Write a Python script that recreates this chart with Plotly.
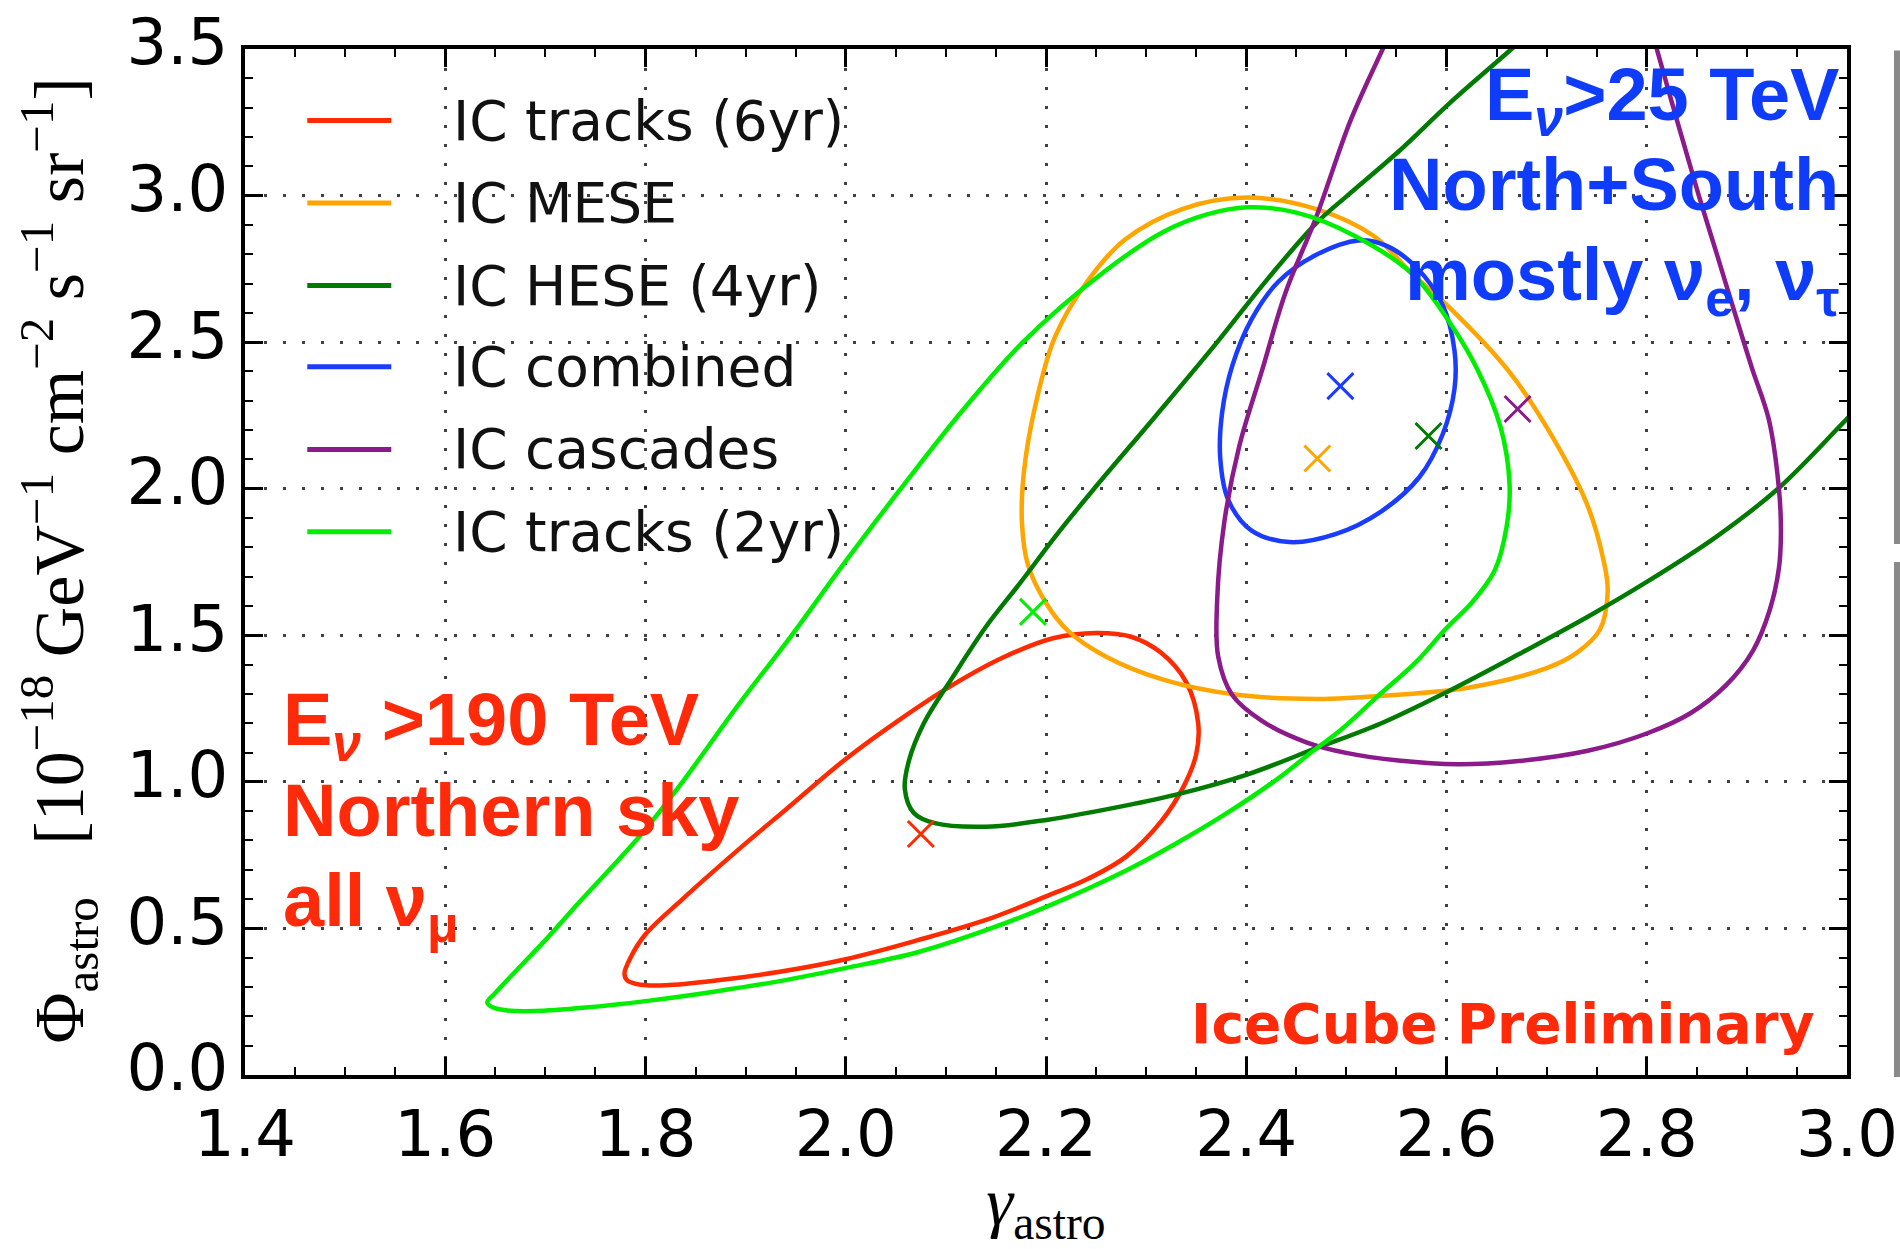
import plotly.graph_objects as go

# ---------------- data ----------------
x_tick_vals = [1.4, 1.6, 1.8, 2.0, 2.2, 2.4, 2.6, 2.8, 3.0]
x_tick_text = ["1.4", "1.6", "1.8", "2.0", "2.2", "2.4", "2.6", "2.8", "3.0"]
y_tick_vals = [0.0, 0.5, 1.0, 1.5, 2.0, 2.5, 3.0, 3.5]
y_tick_text = ["0.0", "0.5", "1.0", "1.5", "2.0", "2.5", "3.0", "3.5"]

series_names = ["IC tracks (6yr)", "IC MESE", "IC HESE (4yr)",
                "IC combined", "IC cascades", "IC tracks (2yr)"]
series_colors = ["#ff2a00", "#ffa500", "#007a00", "#1a3cff", "#8b1a8b", "#00ee00"]

# IC tracks (6yr)
tracks6_gamma = [1.779, 1.785, 1.800, 1.837, 1.900, 1.940, 2.000, 2.055, 2.104, 2.157,
                 2.207, 2.250, 2.285, 2.315, 2.340, 2.352, 2.350, 2.338, 2.315, 2.280,
                 2.243, 2.202, 2.140, 2.071, 2.000, 1.934, 1.870, 1.820, 1.795, 1.782, 1.779]
tracks6_phi = [0.345, 0.400, 0.480, 0.600, 0.790, 0.905, 1.078, 1.215, 1.325, 1.424,
               1.490, 1.508, 1.495, 1.440, 1.340, 1.200, 1.094, 0.988, 0.865, 0.745,
               0.671, 0.612, 0.529, 0.459, 0.395, 0.352, 0.322, 0.306, 0.308, 0.322, 0.345]

# IC MESE
mese_gamma = [2.401, 2.336, 2.279, 2.241, 2.209, 2.190, 2.178, 2.176, 2.182, 2.200,
              2.222, 2.260, 2.317, 2.393, 2.470, 2.546, 2.623, 2.700, 2.730, 2.753,
              2.761, 2.757, 2.740, 2.700, 2.661, 2.600, 2.566, 2.527, 2.470, 2.401]
mese_phi = [2.993, 2.954, 2.850, 2.706, 2.518, 2.294, 2.059, 1.882, 1.740, 1.610,
            1.515, 1.427, 1.349, 1.296, 1.283, 1.296, 1.322, 1.388, 1.440, 1.518,
            1.649, 1.753, 1.950, 2.210, 2.406, 2.628, 2.732, 2.863, 2.954, 2.993]

# IC HESE (4yr) - contour leaves the frame at the top and on the right
hese_gamma = [2.700, 2.663, 2.604, 2.553, 2.501, 2.470, 2.420, 2.371, 2.310, 2.248,
              2.210, 2.175, 2.140, 2.106, 2.078, 2.063, 2.059, 2.068, 2.089, 2.140,
              2.202, 2.278, 2.333, 2.400, 2.470, 2.535, 2.600, 2.672, 2.742, 2.800,
              2.869, 2.931, 2.999, 3.060]
hese_phi = [3.605, 3.494, 3.318, 3.153, 3.000, 2.906, 2.710, 2.500, 2.250, 2.000,
            1.840, 1.682, 1.529, 1.353, 1.200, 1.071, 0.976, 0.894, 0.859, 0.847,
            0.871, 0.918, 0.959, 1.024, 1.115, 1.200, 1.306, 1.435, 1.565, 1.682,
            1.835, 2.000, 2.235, 2.450]

# IC combined
combined_gamma = [2.512, 2.470, 2.432, 2.405, 2.386, 2.376, 2.374, 2.382, 2.405, 2.443,
                  2.489, 2.535, 2.573, 2.596, 2.608, 2.608, 2.596, 2.569, 2.539, 2.512]
combined_phi = [2.847, 2.798, 2.706, 2.576, 2.419, 2.262, 2.106, 1.962, 1.858, 1.818,
                1.845, 1.923, 2.040, 2.184, 2.341, 2.471, 2.628, 2.758, 2.830, 2.847]

# IC cascades - contour leaves the frame at the top
cascades_gamma = [2.550, 2.537, 2.504, 2.470, 2.439, 2.416, 2.393, 2.378, 2.371, 2.372,
                  2.386, 2.416, 2.460, 2.501, 2.552, 2.611, 2.672, 2.741, 2.800, 2.844,
                  2.879, 2.906, 2.923, 2.932, 2.934, 2.932, 2.922, 2.905, 2.889, 2.870,
                  2.852, 2.832, 2.810, 2.800]
cascades_phi = [3.600, 3.505, 3.255, 2.928, 2.667, 2.406, 2.145, 1.884, 1.623, 1.427,
                1.296, 1.207, 1.135, 1.098, 1.073, 1.060, 1.071, 1.106, 1.165, 1.235,
                1.329, 1.447, 1.588, 1.729, 1.850, 2.000, 2.235, 2.412, 2.588, 2.800,
                3.000, 3.235, 3.500, 3.620]

# IC tracks (2yr)
tracks2_gamma = [1.642, 1.650, 1.672, 1.700, 1.734, 1.795, 1.837, 1.890, 1.946, 2.000,
                 2.055, 2.115, 2.177, 2.260, 2.317, 2.360, 2.401, 2.451, 2.508,
                 2.566, 2.604, 2.631, 2.654, 2.663, 2.660, 2.648, 2.625, 2.600, 2.570,
                 2.532, 2.494, 2.467, 2.432, 2.381, 2.329, 2.278, 2.202, 2.140, 2.071,
                 2.000, 1.937, 1.870, 1.800, 1.740, 1.690, 1.662, 1.648, 1.642]
tracks2_phi = [0.247, 0.280, 0.360, 0.460, 0.590, 0.818, 1.000, 1.250, 1.500, 1.753,
               2.000, 2.260, 2.500, 2.745, 2.876, 2.935, 2.960, 2.941, 2.863,
               2.732, 2.563, 2.406, 2.210, 2.014, 1.870, 1.720, 1.610, 1.525, 1.410,
               1.294, 1.176, 1.106, 1.012, 0.894, 0.788, 0.694, 0.576, 0.494, 0.418,
               0.365, 0.322, 0.285, 0.252, 0.230, 0.218, 0.220, 0.230, 0.247]

# best-fit points (same order as series_names)
bestfit_gamma = [2.075, 2.471, 2.582, 2.494, 2.671, 2.187]
bestfit_phi = [0.822, 2.103, 2.180, 2.350, 2.272, 1.580]

contours_gamma = [tracks6_gamma, mese_gamma, hese_gamma, combined_gamma, cascades_gamma, tracks2_gamma]
contours_phi = [tracks6_phi, mese_phi, hese_phi, combined_phi, cascades_phi, tracks2_phi]

# ---------------- figure ----------------
RED_TXT = "#ff2a0a"
BLUE_TXT = "#0f3cfa"

fig = go.Figure()
for name, col, gx, py in zip(series_names, series_colors, contours_gamma, contours_phi):
    fig.add_trace(go.Scatter(x=gx, y=py, mode="lines", name=name,
                             line=dict(color=col, width=4.5, shape="spline", smoothing=1.0),
                             showlegend=False, hoverinfo="skip"))
for name, col, gx, py in zip(series_names, series_colors, bestfit_gamma, bestfit_phi):
    fig.add_trace(go.Scatter(x=[gx], y=[py], mode="markers", name=name + " best fit",
                             marker=dict(symbol="x-thin", size=26, color=col,
                                         line=dict(color=col, width=3)),
                             showlegend=False))

# legend drawn in the top-left of the axes (matplotlib-style, no frame)
leg_x0, leg_x1, leg_text_x = 1.4622, 1.5461, 1.606
leg_y = [3.256, 2.975, 2.693, 2.416, 2.134, 1.853]
shapes = []
annotations = []
for name, col, yy in zip(series_names, series_colors, leg_y):
    shapes.append(dict(type="line", xref="x", yref="y", x0=leg_x0, x1=leg_x1, y0=yy, y1=yy,
                       line=dict(color=col, width=5)))
    annotations.append(dict(xref="x", yref="y", x=leg_text_x, y=yy, text=name,
                            showarrow=False, xanchor="left", yanchor="middle",
                            font=dict(family="DejaVu Sans", size=55, color="#111111")))

# cropped neighbouring-panel bars on the right edge
shapes.append(dict(type="line", xref="paper", yref="paper", x0=1.0312, x1=1.0312,
                   y0=0.5175, y1=0.9986, line=dict(color="#8a8a8a", width=6)))
shapes.append(dict(type="line", xref="paper", yref="paper", x0=1.0312, x1=1.0312,
                   y0=-0.002, y1=0.5, line=dict(color="#8a8a8a", width=6)))

big = dict(family="Liberation Sans, Arial, sans-serif", size=74)
red_lines = ["<b>E<sub><i>ν</i></sub> >190 TeV</b>", "<b>Northern sky</b>", "<b>all ν<sub>μ</sub></b>"]
red_tops = [1.362, 1.050, 0.745]
for t, yy in zip(red_lines, red_tops):
    annotations.append(dict(xref="x", yref="y", x=1.436, y=yy, text=t, showarrow=False,
                            xanchor="left", yanchor="top", font=dict(color=RED_TXT, **big)))
blue_lines = ["<b>E<sub><i>ν</i></sub>>25 TeV</b>", "<b>North+South</b>",
              "<b>mostly ν<sub>e</sub>, ν<sub>τ</sub></b>"]
blue_tops = [0.9985, 0.9100, 0.8222]
for t, yy in zip(blue_lines, blue_tops):
    annotations.append(dict(xref="paper", yref="paper", x=0.9965, y=yy, text=t, showarrow=False,
                            xanchor="right", yanchor="top", font=dict(color=BLUE_TXT, **big)))
annotations.append(dict(xref="paper", yref="paper", x=0.9813, y=0.0827,
                        text="<b>IceCube Preliminary</b>",
                        showarrow=False, xanchor="right", yanchor="top",
                        font=dict(family="DejaVu Sans", size=55, color=RED_TXT)))

# y-axis title (rotated), placed like the reference
annotations.append(dict(xref="paper", yref="paper", x=-0.1161, y=0.5014, textangle=-90,
                        text="Φ<sub>astro</sub>   [10<sup>−18</sup> GeV<sup>−1</sup> cm<sup>−2</sup> s<sup>−1</sup> sr<sup>−1</sup>]",
                        showarrow=False, xanchor="center", yanchor="middle",
                        font=dict(family="Liberation Serif, DejaVu Serif, serif", size=70, color="black")))

axis_common = dict(ticks="inside", ticklen=18, tickwidth=2.5, tickcolor="black",
                   showline=True, linecolor="black", linewidth=4, mirror="ticks",
                   showgrid=True, gridcolor="rgba(0,0,0,0.75)", gridwidth=3,
                   griddash="3px,16px", zeroline=False, automargin=False,
                   tickfont=dict(family="DejaVu Sans", size=64, color="black"))

fig.update_layout(
    template="none",
    width=1900, height=1249,
    margin=dict(l=245, r=53, t=49, b=174),
    paper_bgcolor="white", plot_bgcolor="white",
    showlegend=False,
    xaxis=dict(range=[1.4, 3.0], tickmode="array", tickvals=x_tick_vals, ticktext=x_tick_text,
               minor=dict(tick0=1.4, dtick=0.05, ticks="inside", ticklen=8, tickwidth=2,
                          tickcolor="black", showgrid=False),
               title=dict(text="<i>γ</i><sub>astro</sub>",
                          font=dict(family="Liberation Serif, DejaVu Serif, serif", size=68, color="black"),
                          standoff=42),
               **axis_common),
    yaxis=dict(range=[0, 3.5], tickmode="array", tickvals=y_tick_vals, ticktext=y_tick_text,
               ticklabelshift=-7,
               minor=dict(tick0=0, dtick=0.1, ticks="inside", ticklen=8, tickwidth=2,
                          tickcolor="black", showgrid=False),
               **axis_common),
    shapes=shapes,
    annotations=annotations,
)

fig.write_html("out.html")
